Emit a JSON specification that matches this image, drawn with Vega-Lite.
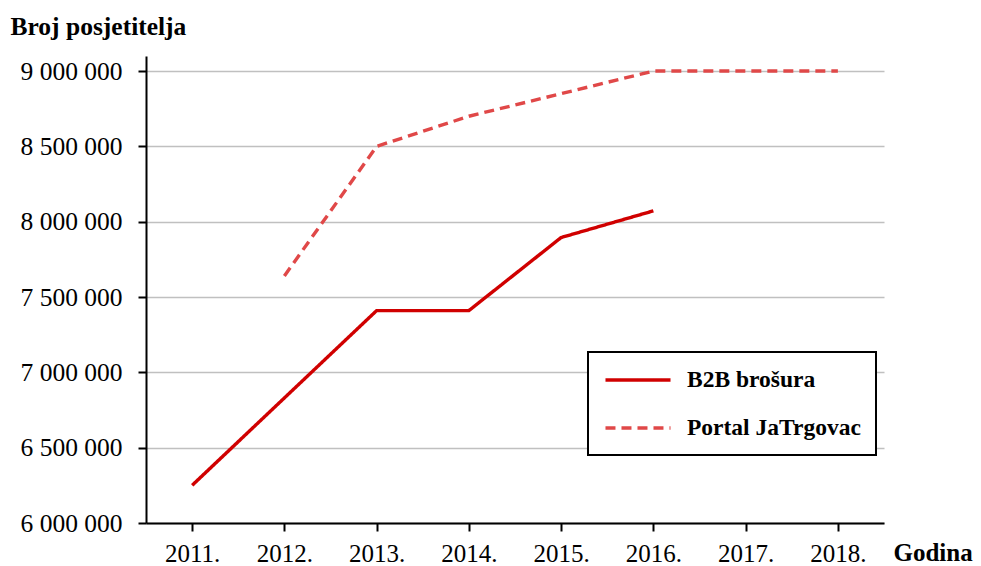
{
  "$schema": "https://vega.github.io/schema/vega-lite/v6.json",
  "width": 738,
  "height": 467,
  "autosize": {"type": "none"},
  "padding": {"left": 146, "top": 56, "right": 97, "bottom": 43},
  "background": "white",
  "config": {
    "font": "Liberation Serif",
    "view": {"stroke": null}
  },
  "data": {
    "values": [
      {"godina": "2011.", "serija": "B2B brošura", "posjetitelji": 6250000},
      {"godina": "2012.", "serija": "B2B brošura", "posjetitelji": 6830000},
      {"godina": "2013.", "serija": "B2B brošura", "posjetitelji": 7410000},
      {"godina": "2014.", "serija": "B2B brošura", "posjetitelji": 7410000},
      {"godina": "2015.", "serija": "B2B brošura", "posjetitelji": 7895000},
      {"godina": "2016.", "serija": "B2B brošura", "posjetitelji": 8072000},
      {"godina": "2012.", "serija": "Portal JaTrgovac", "posjetitelji": 7640000},
      {"godina": "2013.", "serija": "Portal JaTrgovac", "posjetitelji": 8500000},
      {"godina": "2014.", "serija": "Portal JaTrgovac", "posjetitelji": 8700000},
      {"godina": "2015.", "serija": "Portal JaTrgovac", "posjetitelji": 8850000},
      {"godina": "2016.", "serija": "Portal JaTrgovac", "posjetitelji": 9000000},
      {"godina": "2017.", "serija": "Portal JaTrgovac", "posjetitelji": 9000000},
      {"godina": "2018.", "serija": "Portal JaTrgovac", "posjetitelji": 9000000}
    ]
  },
  "mark": {"type": "line", "strokeWidth": 3.4},
  "encoding": {
    "x": {
      "field": "godina",
      "type": "ordinal",
      "sort": ["2011.", "2012.", "2013.", "2014.", "2015.", "2016.", "2017.", "2018."],
      "scale": {"type": "point", "padding": 0.5},
      "axis": {
        "title": "Godina",
        "titleFont": "Liberation Serif",
        "titleFontSize": 25,
        "titleFontWeight": "bold",
        "titleColor": "black",
        "titleAngle": 0,
        "titleAlign": "left",
        "titleBaseline": "alphabetic",
        "titleX": 747,
        "titleY": 37,
        "labelAngle": 0,
        "labelFont": "Liberation Serif",
        "labelFontSize": 25,
        "labelColor": "black",
        "labelPadding": 10,
        "domainColor": "black",
        "domainWidth": 2,
        "tickColor": "black",
        "tickWidth": 2,
        "tickSize": 8,
        "grid": false
      }
    },
    "y": {
      "field": "posjetitelji",
      "type": "quantitative",
      "scale": {"domain": [6000000, 9100000], "nice": false, "zero": false},
      "axis": {
        "title": "Broj posjetitelja",
        "titleFont": "Liberation Serif",
        "titleFontSize": 25.5,
        "titleFontWeight": "bold",
        "titleColor": "black",
        "titleAngle": 0,
        "titleAlign": "left",
        "titleBaseline": "alphabetic",
        "titleX": -136,
        "titleY": -22,
        "values": [6000000, 6500000, 7000000, 7500000, 8000000, 8500000, 9000000],
        "labelExpr": "replace(format(datum.value, ','), /,/g, ' ')",
        "labelFont": "Liberation Serif",
        "labelFontSize": 25.5,
        "labelColor": "black",
        "labelPadding": 16,
        "domainColor": "black",
        "domainWidth": 2,
        "tickColor": "black",
        "tickWidth": 2,
        "tickSize": 8,
        "grid": true,
        "gridColor": "#c0c0c0",
        "gridWidth": 1.5
      }
    },
    "color": {
      "field": "serija",
      "type": "nominal",
      "scale": {"domain": ["B2B brošura", "Portal JaTrgovac"], "range": ["#d00000", "#e04848"]},
      "legend": {
        "title": null,
        "orient": "none",
        "legendX": 442,
        "legendY": 296,
        "direction": "vertical",
        "symbolType": "M-3,0H3",
        "symbolSize": 470,
        "symbolStrokeWidth": 3.4,
        "symbolOffset": 22,
        "labelFont": "Liberation Serif",
        "labelFontSize": 23.5,
        "labelFontWeight": "bold",
        "labelColor": "black",
        "labelOffset": 36,
        "rowPadding": 23,
        "padding": 15,
        "strokeColor": "black",
        "fillColor": "white",
        "labelLimit": 400,
        "encode": {"legend": {"update": {"strokeWidth": {"value": 2}}}}
      }
    },
    "strokeDash": {
      "field": "serija",
      "type": "nominal",
      "scale": {"domain": ["B2B brošura", "Portal JaTrgovac"], "range": [[1, 0], [10, 6]]},
      "legend": null
    }
  }
}
